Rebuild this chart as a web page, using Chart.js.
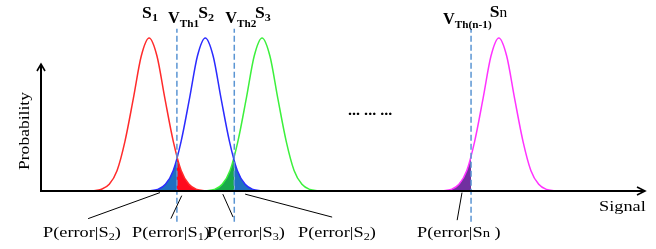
<!DOCTYPE html>
<html>
<head>
<meta charset="utf-8">
<script src="https://cdn.jsdelivr.net/npm/chart.js@4"></script>
<style>
  html, body { margin: 0; padding: 0; background: #fff; }
</style>
</head>
<body>
<canvas id="chart" width="656" height="249"></canvas>
<script>
// Signal positions (arbitrary units) and probability
const s1X = [0.86, 0.99, 1.13, 1.26, 1.39, 1.53, 1.66, 1.79, 1.92, 2.05, 2.19, 2.32, 2.45, 2.58, 2.72];
const s1Y = [0.002, 0.011, 0.044, 0.135, 0.325, 0.607, 0.882, 1, 0.882, 0.607, 0.325, 0.135, 0.044, 0.011, 0.002];
const s2X = [1.79, 1.93, 2.06, 2.19, 2.32, 2.46, 2.59, 2.72, 2.85, 2.98, 3.12, 3.25, 3.38, 3.51, 3.65];
const s2Y = [0.002, 0.011, 0.044, 0.135, 0.325, 0.607, 0.882, 1, 0.882, 0.607, 0.325, 0.135, 0.044, 0.011, 0.002];
const s3X = [2.73, 2.87, 3.00, 3.13, 3.26, 3.40, 3.53, 3.66, 3.79, 3.92, 4.06, 4.19, 4.32, 4.45, 4.59];
const s3Y = [0.002, 0.011, 0.044, 0.135, 0.325, 0.607, 0.882, 1, 0.882, 0.607, 0.325, 0.135, 0.044, 0.011, 0.002];
const snX = [6.65, 6.79, 6.92, 7.05, 7.18, 7.32, 7.45, 7.58, 7.71, 7.84, 7.98, 8.11, 8.24, 8.37, 8.51];
const snY = [0.002, 0.011, 0.044, 0.135, 0.325, 0.607, 0.882, 1, 0.882, 0.607, 0.325, 0.135, 0.044, 0.011, 0.002];

// error regions (tails cut at the thresholds)
const errS2LeftX = [1.79, 1.93, 2.06, 2.19, 2.25];
const errS2LeftY = [0.002, 0.011, 0.044, 0.135, 0.21];
const errS1X = [2.25, 2.32, 2.45, 2.58, 2.72];
const errS1Y = [0.22, 0.135, 0.044, 0.011, 0.002];
const errS3X = [2.73, 2.87, 3.00, 3.13, 3.20];
const errS3Y = [0.002, 0.011, 0.044, 0.135, 0.22];
const errS2RightX = [3.20, 3.25, 3.38, 3.51, 3.65];
const errS2RightY = [0.19, 0.135, 0.044, 0.011, 0.002];
const errSnX = [6.65, 6.79, 6.92, 7.05, 7.12];
const errSnY = [0.002, 0.011, 0.044, 0.135, 0.22];

// decision thresholds
const thresholdX = [2.25, 3.20, 7.12];
const thresholdSub = ['Th1', 'Th2', 'Th(n-1)'];
const stateSub = ['1', '2', '3'];
const errorSub = ['2', '1', '3', '2', 'n'];

// pointer lines from labels to the error areas [x0, y0, x1, y1]
const leaders = [
  [0.78, -0.18, 1.97, -0.01],
  [2.15, -0.18, 2.33, -0.03],
  [3.01, -0.02, 3.18, -0.17],
  [3.38, -0.02, 4.82, -0.17],
  [6.97, -0.01, 6.89, -0.19]
];

const pts = (xs, ys) => xs.map((x, i) => ({ x: x, y: ys[i] }));

function curve(xs, ys, color) {
  return {
    data: pts(xs, ys), borderColor: color, borderWidth: 1.5,
    fill: false, cubicInterpolationMode: 'monotone', order: 5
  };
}
function area(xs, ys, color) {
  return {
    data: pts(xs, ys), borderWidth: 0, borderColor: color, backgroundColor: color,
    fill: 'origin', cubicInterpolationMode: 'monotone', order: 10
  };
}

const datasets = [
  area(errS2LeftX, errS2LeftY, '#1f70c1'),
  area(errS1X, errS1Y, '#ff0a1e'),
  area(errS3X, errS3Y, '#1aa94b'),
  area(errS2RightX, errS2RightY, '#1f70c1'),
  area(errSnX, errSnY, '#7030a0'),
  curve(s1X, s1Y, '#ff2b2b'),
  curve(s2X, s2Y, '#2b2bff'),
  curve(s3X, s3Y, '#3cf03c'),
  curve(snX, snY, '#ff33ff')
];
thresholdX.forEach(x => datasets.push({
  data: [{ x: x, y: -0.2 }, { x: x, y: 1.06 }],
  borderColor: '#5b95d3', borderWidth: 1.5, borderDash: [6, 3], order: 1
}));
leaders.forEach(l => datasets.push({
  data: [{ x: l[0], y: l[1] }, { x: l[2], y: l[3] }],
  borderColor: '#000', borderWidth: 1, order: 0
}));

const SERIF = '"Liberation Serif", "Times New Roman", serif';

// draws a run of text pieces (with sub/superscripts), stretched horizontally
function rich(ctx, parts, x, y, sx) {
  ctx.save();
  ctx.translate(x, y);
  ctx.scale(sx, 1);
  let cx = 0;
  parts.forEach(p => {
    ctx.font = p.f;
    ctx.fillText(p.t, cx, p.dy || 0);
    cx += ctx.measureText(p.t).width;
  });
  ctx.restore();
}

const decor = {
  id: 'decor',
  afterDatasetsDraw(chart) {
    const ctx = chart.ctx;
    const xs = chart.scales.x, ys = chart.scales.y;
    const x0 = xs.getPixelForValue(0), y0 = ys.getPixelForValue(0);
    const xEnd = xs.getPixelForValue(10), yTop = ys.getPixelForValue(0.83);

    ctx.save();
    ctx.strokeStyle = '#000';
    ctx.lineWidth = 2;
    ctx.beginPath();
    ctx.moveTo(x0, yTop); ctx.lineTo(x0, y0); ctx.lineTo(xEnd, y0);
    ctx.stroke();
    // arrow heads
    ctx.lineWidth = 1.6;
    ctx.beginPath();
    ctx.moveTo(x0 - 4, yTop + 7); ctx.lineTo(x0, yTop); ctx.lineTo(x0 + 4, yTop + 7);
    ctx.moveTo(xEnd - 8, y0 - 4); ctx.lineTo(xEnd, y0); ctx.lineTo(xEnd - 8, y0 + 4);
    ctx.stroke();

    ctx.fillStyle = '#000';
    ctx.textBaseline = 'alphabetic';
    const big = 'bold 16px ' + SERIF, small = 'bold 11px ' + SERIF;

    // state labels above the peaks
    const peaks = [s1X[7], s2X[7], s3X[7]];
    peaks.forEach((p, i) => {
      rich(ctx, [{ t: 'S', f: big }, { t: stateSub[i], f: small, dy: 3 }],
        xs.getPixelForValue(p) - 7, 18, 1.1);
    });
    rich(ctx, [{ t: 'S', f: big }, { t: 'n', f: '14px ' + SERIF }],
      xs.getPixelForValue(snX[7]) - 9, 17, 1.1);

    // threshold labels
    thresholdX.forEach((t, i) => {
      const px = xs.getPixelForValue(t);
      const off = i === 2 ? -28 : -9;
      rich(ctx, [{ t: 'V', f: big }, { t: thresholdSub[i], f: small, dy: 4 }],
        px + off, 23 + (i === 2 ? 1 : 0), 1.02);
    });

    // error labels
    const reg = '15px ' + SERIF, sub = '10px ' + SERIF;
    const lx = [43, 132, 207, 298, 417];
    errorSub.forEach((s, i) => {
      const parts = [{ t: 'P(error|S', f: reg }, { t: s, f: i === 4 ? '12px ' + SERIF : sub, dy: i === 4 ? 0 : 3 },
        { t: i === 4 ? ' )' : ')', f: reg }];
      rich(ctx, parts, lx[i], 237, 1.22);
    });

    // axis titles
    rich(ctx, [{ t: 'Signal', f: reg }], 599, 211, 1.22);
    ctx.save();
    ctx.translate(29, 170);
    ctx.rotate(-Math.PI / 2);
    rich(ctx, [{ t: 'Probability', f: reg }], 0, 0, 1.17);
    ctx.restore();

    rich(ctx, [{ t: '... ... ...', f: 'bold 14px ' + SERIF }], 348, 115, 1.15);
    ctx.restore();
  }
};

new Chart(document.getElementById('chart'), {
  type: 'line',
  data: { datasets: datasets },
  options: {
    responsive: false,
    animation: false,
    devicePixelRatio: 1,
    layout: { padding: { left: 41, right: 11, top: 15, bottom: 12 } },
    elements: { point: { radius: 0 } },
    scales: {
      x: { type: 'linear', min: 0, max: 10, display: false },
      y: { min: -0.3, max: 1.15, display: false }
    },
    plugins: { legend: { display: false }, tooltip: { enabled: false } }
  },
  plugins: [decor]
});
</script>
</body>
</html>
